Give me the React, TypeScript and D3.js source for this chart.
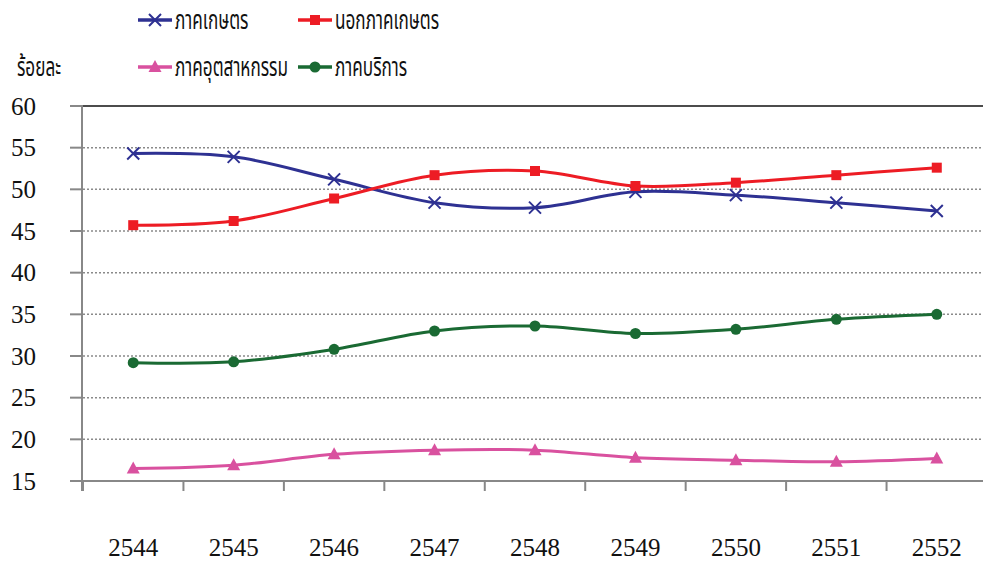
import React from "react";
import * as d3 from "d3";

const years = ["2544", "2545", "2546", "2547", "2548", "2549", "2550", "2551", "2552"];
const agri = [54.3, 53.9, 51.2, 48.4, 47.8, 49.7, 49.3, 48.4, 47.4];
const nonAgri = [45.7, 46.2, 48.9, 51.7, 52.2, 50.4, 50.8, 51.7, 52.6];
const industry = [16.5, 16.9, 18.2, 18.7, 18.7, 17.8, 17.5, 17.3, 17.7];
const services = [29.2, 29.3, 30.8, 33.0, 33.6, 32.7, 33.2, 34.4, 35.0];
const yTicks = [15, 20, 25, 30, 35, 40, 45, 50, 55, 60];

const seriesNames = ["ภาคเกษตร", "นอกภาคเกษตร", "ภาคอุตสาหกรรม", "ภาคบริการ"];
const seriesColors = ["#2E3192", "#ED1C24", "#D9519F", "#1A6A33"];
const seriesMarkers = ["x", "square", "triangle", "circle"];
const seriesData = [agri, nonAgri, industry, services];

const W = 983, H = 563;
const left = 83, right = 987, top = 106, bottom = 481;
const serifStyle = { fontFamily: '"Liberation Serif", "Times New Roman", "DejaVu Serif", serif' };
const thaiStyle = { fontFamily: '"Noto Sans Thai", "Liberation Serif", sans-serif' };

function Marker({ type, x, y, color }: { type: string; x: number; y: number; color: string }) {
  if (type === "x") {
    const s = 6;
    return (
      <path d={`M${x - s},${y - s}L${x + s},${y + s}M${x - s},${y + s}L${x + s},${y - s}`} stroke={color} strokeWidth={2} fill="none" />
    );
  }
  if (type === "square") {
    return <rect x={x - 5} y={y - 5} width={10} height={10} fill={color} />;
  }
  if (type === "triangle") {
    return <path d={`M${x},${y - 7}L${x + 6.5},${y + 5}L${x - 6.5},${y + 5}Z`} fill={color} />;
  }
  return <circle cx={x} cy={y} r={5.5} fill={color} />;
}

function ThaiText({ x, y, children }: { x: number; y: number; children: string }) {
  return (
    <text transform={`translate(${x},${y}) scale(0.66,1)`} dy="0.36em" style={thaiStyle} fontSize={26} fill="#111">
      {children}
    </text>
  );
}

export default function App() {
  const x = d3.scaleBand<string>().domain(years).range([left, right]).padding(0);
  const y = d3.scaleLinear().domain([15, 60]).range([bottom, top]);
  const cx = (d: string) => (x(d) as number) + x.bandwidth() / 2;
  const line = d3
    .line<number>()
    .x((_, i) => cx(years[i]))
    .y((v) => y(v))
    .curve(d3.curveCatmullRom.alpha(0.5));

  const legendPos = [
    { lx: 138, ly: 20 },
    { lx: 298, ly: 20 },
    { lx: 138, ly: 67 },
    { lx: 298, ly: 67 },
  ];

  return (
    <svg width={W} height={H} style={{ position: "absolute", left: 0, top: 0, background: "#fff" }}>
      {/* gridlines */}
      {yTicks.filter((t) => t !== 15 && t !== 60).map((t) => (
        <line key={t} x1={left} x2={W} y1={y(t)} y2={y(t)} stroke="#8a8a8a" strokeWidth={1.5} strokeDasharray="2,2" />
      ))}
      <line x1={left} x2={W} y1={y(60)} y2={y(60)} stroke="#111" strokeWidth={1.5} />
      {/* y axis */}
      <line x1={left - 1} x2={left - 1} y1={top} y2={bottom + 10} stroke="#888" strokeWidth={2} />
      {yTicks.map((t) => (
        <g key={t}>
          <line x1={70} x2={left} y1={y(t)} y2={y(t)} stroke="#888" strokeWidth={2} />
          <text x={36} y={y(t)} dy="0.34em" textAnchor="end" style={serifStyle} fontSize={25} fill="#111">
            {t}
          </text>
        </g>
      ))}
      {/* x axis */}
      <line x1={70} x2={W} y1={bottom} y2={bottom} stroke="#888" strokeWidth={2} />
      {years.map((d) => (
        <g key={d}>
          <line x1={x(d) as number} x2={x(d) as number} y1={bottom} y2={bottom + 10} stroke="#888" strokeWidth={2} />
          <text x={cx(d)} y={556} textAnchor="middle" style={serifStyle} fontSize={25} fill="#111">
            {d}
          </text>
        </g>
      ))}
      {/* series */}
      {seriesData.map((data, si) => (
        <g key={si}>
          <path d={line(data) as string} fill="none" stroke={seriesColors[si]} strokeWidth={3} />
          {data.map((v, i) => (
            <Marker key={i} type={seriesMarkers[si]} x={cx(years[i])} y={y(v)} color={seriesColors[si]} />
          ))}
        </g>
      ))}
      {/* y title */}
      <ThaiText x={17} y={67}>ร้อยละ</ThaiText>
      {/* legend */}
      {seriesNames.map((n, i) => {
        const p = legendPos[i];
        return (
          <g key={n}>
            <line x1={p.lx} x2={p.lx + 34} y1={p.ly} y2={p.ly} stroke={seriesColors[i]} strokeWidth={3.5} />
            <Marker type={seriesMarkers[i]} x={p.lx + 17} y={p.ly} color={seriesColors[i]} />
            <ThaiText x={p.lx + 37} y={p.ly}>{n}</ThaiText>
          </g>
        );
      })}
    </svg>
  );
}
